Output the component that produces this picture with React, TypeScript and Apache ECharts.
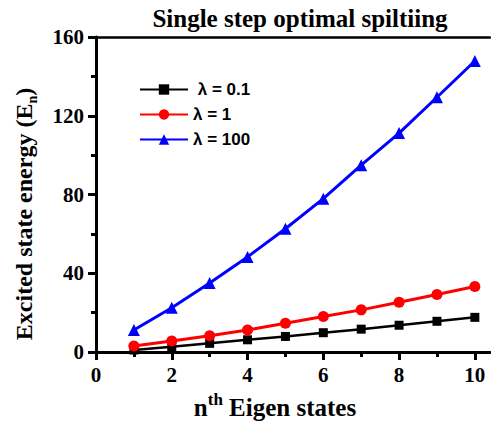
import React, { useEffect, useRef } from "react";
import * as echarts from "echarts";

const xStates = [1, 2, 3, 4, 5, 6, 7, 8, 9, 10];
const lambda01 = [1.0, 2.7, 4.4, 6.2, 7.9, 9.8, 11.6, 13.6, 15.6, 17.6];
const lambda1 = [3.0, 5.6, 8.3, 11.2, 14.6, 18.0, 21.4, 25.3, 29.2, 33.3];
const lambda100 = [11.2, 22.5, 35.0, 48.3, 62.6, 77.9, 94.9, 111.2, 129.4, 147.8];
const seriesNames = [" \u03bb = 0.1", "\u03bb = 1", "\u03bb = 100"];
const xMajorTicks = [0, 2, 4, 6, 8, 10];
const xMinorTicks = [1, 3, 5, 7, 9];
const titleText = "Single step optimal spiltiing";

const SERIF = "'Liberation Serif', 'Times New Roman', serif";
const SANS = "'Liberation Sans', Arial, sans-serif";

export default function App() {
  const ref = useRef<HTMLDivElement>(null);
  useEffect(() => {
    if (!ref.current) return;
    const chart = echarts.init(ref.current, undefined, { renderer: "svg" });
    const pairs = (ys: number[]) => xStates.map((x, i) => [x, ys[i]]);
    const axisLabelStyle = { fontFamily: SERIF, fontWeight: "bold" as const, fontSize: 21, color: "#000" };
    chart.setOption({
      animation: false,
      backgroundColor: "#fff",
      graphic: [
        {
          type: "text",
          x: 300,
          y: 18,
          style: {
            text: titleText,
            align: "center",
            verticalAlign: "middle",
            fontFamily: SERIF,
            fontWeight: "bold",
            fontSize: 25,
            fill: "#000",
          },
        },
        {
          type: "text",
          x: 24,
          y: 214,
          rotation: Math.PI / 2,
          style: {
            text: "{m|Excited state energy (E}{s|n}{m|)}",
            align: "center",
            verticalAlign: "middle",
            rich: {
              m: { fontFamily: SERIF, fontWeight: "bold", fontSize: 24, lineHeight: 30, fill: "#000" },
              s: { fontFamily: SERIF, fontWeight: "bold", fontSize: 14, lineHeight: 14, verticalAlign: "bottom", fill: "#000" },
            },
          },
        },
        {
          type: "text",
          x: 275,
          y: 407,
          style: {
            text: "{m|n}{p|th}{m| Eigen states}",
            align: "center",
            verticalAlign: "middle",
            rich: {
              m: { fontFamily: SERIF, fontWeight: "bold", fontSize: 25, lineHeight: 32, fill: "#000" },
              p: { fontFamily: SERIF, fontWeight: "bold", fontSize: 17, lineHeight: 17, verticalAlign: "top", fill: "#000" },
            },
          },
        },
      ],
      grid: { left: 96, right: 1, top: 37, bottom: 75, containLabel: false },
      legend: {
        orient: "vertical",
        left: 134,
        top: 76,
        itemWidth: 48,
        itemHeight: 13,
        itemGap: 8,
        textStyle: { fontFamily: SANS, fontWeight: "bold", fontSize: 17, color: "#000" },
        data: seriesNames,
      },
      xAxis: [
        {
          type: "value",
          min: 0,
          max: 10.4,
          interval: 2,
          position: "bottom",
          axisLine: { show: true, lineStyle: { color: "#000", width: 3 } },
          axisTick: { show: true, length: 8, inside: false, customValues: xMajorTicks, lineStyle: { color: "#000", width: 3 } },
          axisLabel: { ...axisLabelStyle, margin: 12, customValues: xMajorTicks },
          splitLine: { show: false },
        },
        {
          type: "value",
          min: 0,
          max: 10.4,
          interval: 1,
          position: "bottom",
          axisLine: { show: false },
          axisTick: { show: true, length: 5, customValues: xMinorTicks, lineStyle: { color: "#000", width: 3 } },
          axisLabel: { show: false },
          splitLine: { show: false },
        },
        {
          type: "value",
          min: 0,
          max: 10.4,
          position: "top",
          axisLine: { show: true, lineStyle: { color: "#000", width: 2.5 } },
          axisTick: { show: false },
          axisLabel: { show: false },
          splitLine: { show: false },
        },
      ],
      yAxis: {
        type: "value",
        min: 0,
        max: 160,
        interval: 40,
        axisLine: { show: true, lineStyle: { color: "#000", width: 3 } },
        axisTick: { show: true, length: 8, lineStyle: { color: "#000", width: 3 } },
        minorTick: { show: true, splitNumber: 2, length: 5, lineStyle: { color: "#000", width: 3 } },
        axisLabel: { ...axisLabelStyle, margin: 12 },
        splitLine: { show: false },
      },
      series: [
        {
          name: seriesNames[0],
          type: "line",
          data: pairs(lambda01),
          symbol: "rect",
          symbolSize: 9,
          itemStyle: { color: "#000" },
          lineStyle: { color: "#000", width: 2.5 },
          z: 3,
        },
        {
          name: seriesNames[1],
          type: "line",
          data: pairs(lambda1),
          symbol: "circle",
          symbolSize: 11,
          itemStyle: { color: "#ff0000" },
          lineStyle: { color: "#ff0000", width: 3 },
          z: 4,
        },
        {
          name: seriesNames[2],
          type: "line",
          data: pairs(lambda100),
          symbol: "triangle",
          symbolSize: 12,
          itemStyle: { color: "#0000ff" },
          lineStyle: { color: "#0000ff", width: 3 },
          z: 5,
        },
      ],
    });
    return () => chart.dispose();
  }, []);
  return <div ref={ref} style={{ width: 491, height: 427, position: "absolute", left: 0, top: 0 }} />;
}
